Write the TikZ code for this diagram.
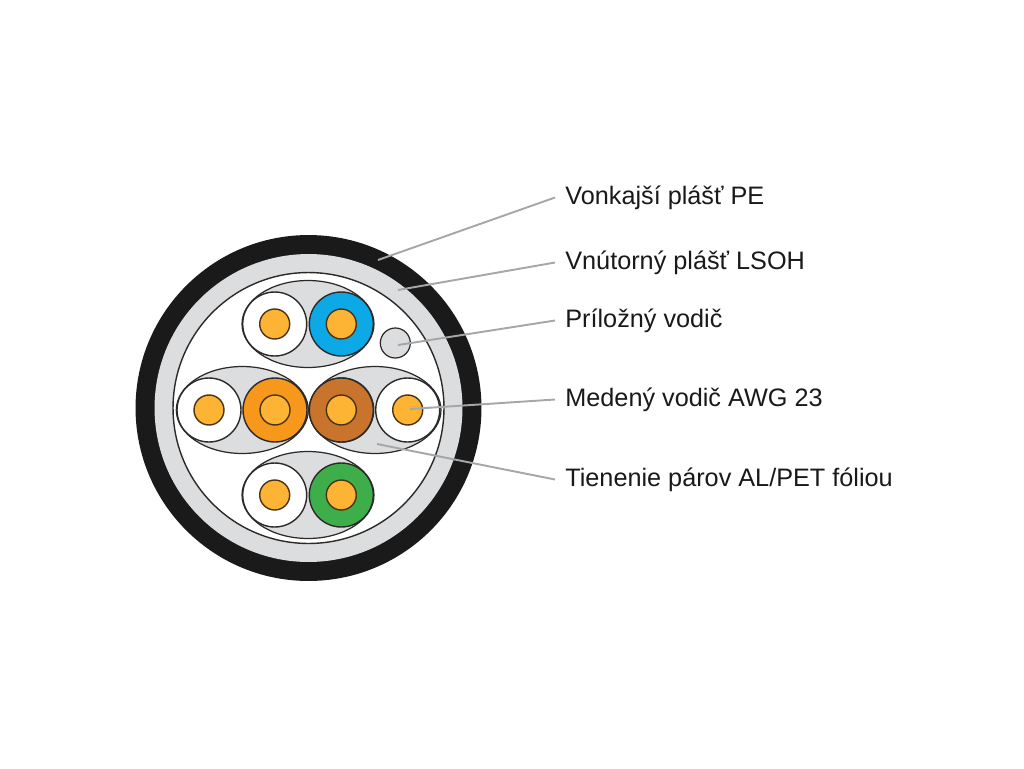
\documentclass[tikz,border=0pt]{standalone}
\usepackage{fontspec}
\setmainfont{Liberation Sans}
\usetikzlibrary{shapes.geometric}
\definecolor{cJacket}{HTML}{1B1A1A}
\definecolor{cFill}{HTML}{DCDDDE}
\definecolor{cEdge}{HTML}{2B2A28}
\definecolor{cCopper}{HTML}{FDB334}
\definecolor{cCopperEdge}{HTML}{4A3312}
\definecolor{cOrange}{HTML}{F7981D}
\definecolor{cBrown}{HTML}{C8742C}
\definecolor{cBlue}{HTML}{0DA9E6}
\definecolor{cGreen}{HTML}{3DAE4A}
\definecolor{cLead}{HTML}{A6A7A8}
\tikzset{
  shieldbox/.style={ellipse, draw=cEdge, fill=cFill, line width=0.7pt, inner sep=0pt, minimum width=2.64cm, minimum height=1.74cm},
  wirebox/.style={circle, draw=cEdge, line width=0.8pt, inner sep=0pt, minimum size=1.28cm},
  corebox/.style={circle, draw=cCopperEdge, fill=cCopper, line width=0.8pt, inner sep=0pt, minimum size=0.6cm},
  leadlabel/.style={anchor=west, inner ysep=0pt, inner xsep=0.2cm, font=\fontsize{14.37}{17}\selectfont, text=black!90},
  leadline/.style={draw=cLead, line width=1.1pt}
}
\newcommand{\wirepair}[3]{%
 \node[shieldbox] (#3s) at (#1,#2) {};%
 \node[wirebox, fill=white] (#3a) at (#1-33.3,#2) {};%
 \node[corebox] (#3ac) at (#3a) {};}
\newcommand{\wirecol}[4]{%
 \node[wirebox, fill=#3] (#4) at (#1,#2) {};%
 \node[corebox] (#4c) at (#4) {};}
\begin{document}
\begin{tikzpicture}[x=0.02cm,y=-0.02cm]
\useasboundingbox (0,0) rectangle (1024,768);
% jacket
\node[circle, fill=cJacket, inner sep=0pt, minimum size=6.92cm] (jacket) at (308.5,408) {};
\node[circle, fill=cFill, inner sep=0pt, minimum size=6.16cm] (inner) at (jacket) {};
\node[circle, draw=cEdge, fill=white, line width=0.8pt, inner sep=0pt, minimum size=5.42cm] (core) at (jacket) {};
% pairs
\wirepair{308}{324}{top}
\wirecol{341.3}{324}{cBlue}{topb}
\wirepair{242.3}{410}{left}
\wirecol{275}{410}{cOrange}{lefto}
\wirepair{375}{410}{right}
\node[wirebox, fill=white] (righta) at (407.7,410) {};
\node[corebox] (rightac) at (righta) {};
\wirecol{341.3}{410}{cBrown}{rightb}
\wirepair{308}{495}{bot}
\wirecol{341.3}{495}{cGreen}{botg}
\node[circle, draw=cEdge, fill=cFill, line width=0.7pt, inner sep=0pt, minimum size=0.6cm] (drain) at (395.3,343) {};
% labels
\node[leadlabel] (l1) at (555,197.5) {Vonkajší plášť PE};
\node[leadlabel] (l2) at (555,262.5) {Vnútorný plášť LSOH};
\node[leadlabel] (l3) at (555,320.5) {Príložný vodič};
\node[leadlabel] (l4) at (555,399.5) {Medený vodič AWG 23};
\node[leadlabel] (l5) at (555,479.5) {Tienenie párov AL/PET fóliou};
\coordinate (e1) at (378,260);
\coordinate (e2) at (398,290);
\coordinate (e3) at (398,345);
\coordinate (e4) at (410,409);
\coordinate (e5) at (377,444);
\draw[leadline] (l1.west) -- (e1);
\draw[leadline] (l2.west) -- (e2);
\draw[leadline] (l3.west) -- (e3);
\draw[leadline] (l4.west) -- (e4);
\draw[leadline] (l5.west) -- (e5);
\end{tikzpicture}
\end{document}
